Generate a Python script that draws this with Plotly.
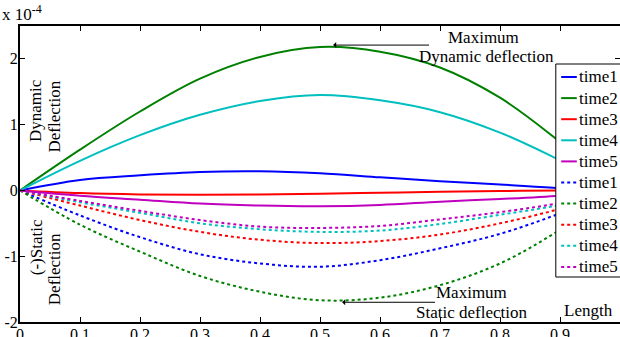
import plotly.graph_objects as go

# ---- data (deflection in units of 1e-4) ----
length = [0.0, 0.1, 0.2, 0.3, 0.4, 0.5, 0.6, 0.7, 0.8, 0.9, 1.0]
series_names = ["time1", "time2", "time3", "time4", "time5"]

dyn_time1 = [0, 0.16, 0.23, 0.28, 0.29, 0.26, 0.20, 0.14, 0.09, 0.035, 0.0]
dyn_time2 = [0, 0.62, 1.20, 1.70, 2.03, 2.18, 2.11, 1.87, 1.41, 0.74, 0.0]
dyn_time3 = [0, -0.04, -0.06, -0.065, -0.06, -0.05, -0.035, -0.02, -0.01, 0.0, 0.0]
dyn_time4 = [0, 0.45, 0.84, 1.15, 1.36, 1.45, 1.37, 1.19, 0.88, 0.46, 0.0]
dyn_time5 = [0, -0.08, -0.14, -0.20, -0.23, -0.24, -0.22, -0.17, -0.13, -0.08, 0.0]

sta_time1 = [0, -0.38, -0.71, -0.97, -1.11, -1.16, -1.06, -0.88, -0.66, -0.35, 0.0]
sta_time2 = [0, -0.52, -0.93, -1.30, -1.54, -1.67, -1.63, -1.44, -1.11, -0.60, 0.0]
sta_time3 = [0, -0.23, -0.45, -0.63, -0.75, -0.80, -0.77, -0.67, -0.50, -0.28, 0.0]
sta_time4 = [0, -0.18, -0.34, -0.50, -0.59, -0.63, -0.61, -0.51, -0.37, -0.22, 0.0]
sta_time5 = [0, -0.16, -0.31, -0.45, -0.55, -0.57, -0.54, -0.44, -0.33, -0.19, 0.0]

x_ticks = [0, 0.1, 0.2, 0.3, 0.4, 0.5, 0.6, 0.7, 0.8, 0.9, 1.0]
x_ticklabels = ["0", "0.1", "0.2", "0.3", "0.4", "0.5", "0.6", "0.7", "0.8", "0.9", "1"]
y_ticks = [-2, -1, 0, 1, 2]
y_ticklabels = ["-2", "-1", "0", "1", "2"]

colors = ["#0000ff", "#008000", "#ff0000", "#00bfbf", "#bf00bf"]
dynamic = [dyn_time1, dyn_time2, dyn_time3, dyn_time4, dyn_time5]
static = [sta_time1, sta_time2, sta_time3, sta_time4, sta_time5]

FONT = "Times New Roman, Liberation Serif, Times, serif"

fig = go.Figure()
for name, vals, c in zip(series_names, dynamic, colors):
    fig.add_trace(go.Scatter(x=length, y=vals, mode="lines", name=name,
                             line=dict(color=c, width=2, shape="spline"),
                             showlegend=False, hoverinfo="skip"))
for name, vals, c in zip(series_names, static, colors):
    fig.add_trace(go.Scatter(x=length, y=vals, mode="lines", name=name,
                             line=dict(color=c, width=2, dash="dot", shape="spline"),
                             showlegend=False, hoverinfo="skip"))

# ---- custom legend (MATLAB style) ----
shapes = []
annotations = []
plot_top, plot_bot = 26, 322
ph = plot_bot - plot_top
def py(px):
    return (plot_bot - px) / ph

shapes.append(dict(type="rect", xref="paper", yref="paper",
                   x0=0.893, x1=1.2, y0=py(277), y1=py(64),
                   line=dict(color="black", width=1), fillcolor="white", layer="above"))
entries = [(n, c, "solid") for n, c in zip(series_names, colors)] + \
          [(n, c, "dot") for n, c in zip(series_names, colors)]
for i, (n, c, d) in enumerate(entries):
    yc = 77 + 21.1 * i
    shapes.append(dict(type="line", xref="paper", yref="paper",
                       x0=0.902, x1=0.928, y0=py(yc), y1=py(yc),
                       line=dict(color=c, width=2, dash=d), layer="above"))
    annotations.append(dict(text=n, xref="paper", yref="paper", x=0.928, y=py(yc),
                            xanchor="left", yanchor="middle", showarrow=False,
                            font=dict(family=FONT, size=17, color="black")))

tf = dict(family=FONT, size=17, color="black")
annotations += [
    dict(text="Maximum", x=0.773, y=2.32, xref="x", yref="y", showarrow=False, font=tf),
    dict(text="Dynamic deflection", x=0.777, y=2.03, xref="x", yref="y", showarrow=False, font=tf),
    dict(text="Maximum", x=0.752, y=-1.545, xref="x", yref="y", showarrow=False, font=tf),
    dict(text="Static deflection", x=0.753, y=-1.86, xref="x", yref="y", showarrow=False, font=tf),
    dict(text="Length", x=0.947, y=-1.83, xref="x", yref="y", showarrow=False, font=tf),
    dict(text="Dynamic", x=0.027, y=1.21, xref="x", yref="y", showarrow=False, font=tf, textangle=-90),
    dict(text="Deflection", x=0.058, y=1.12, xref="x", yref="y", showarrow=False, font=tf, textangle=-90),
    dict(text="(-)Static", x=0.027, y=-0.86, xref="x", yref="y", showarrow=False, font=tf, textangle=-90),
    dict(text="Deflection", x=0.058, y=-1.20, xref="x", yref="y", showarrow=False, font=tf, textangle=-90),
    dict(text="x 10<sup>-4</sup>", xref="paper", yref="paper", x=-0.033, y=py(13),
         xanchor="left", yanchor="middle", showarrow=False, font=tf),
    dict(text=" ", x=0.522, y=2.21, ax=0.685, ay=2.21, xref="x", yref="y", axref="x", ayref="y",
         showarrow=True, arrowhead=1, arrowsize=1, arrowwidth=1, arrowcolor="black",
         font=dict(size=2)),
    dict(text=" ", x=0.537, y=-1.70, ax=0.695, ay=-1.70, xref="x", yref="y", axref="x", ayref="y",
         showarrow=True, arrowhead=1, arrowsize=1, arrowwidth=1, arrowcolor="black",
         font=dict(size=2)),
]

axis_common = dict(showgrid=False, zeroline=False, showline=True, linecolor="black",
                   linewidth=2, ticks="inside", ticklen=5, tickcolor="black", tickwidth=1,
                   mirror="ticks", automargin=False,
                   tickfont=dict(family=FONT, size=16, color="black"))

fig.update_layout(
    width=620, height=337,
    margin=dict(l=20, r=0, t=26, b=15, autoexpand=False),
    plot_bgcolor="white", paper_bgcolor="white",
    font=dict(family=FONT, color="black"),
    showlegend=False, hovermode=False,
    shapes=shapes, annotations=annotations,
    xaxis=dict(range=[0, 1], tickvals=x_ticks, ticktext=x_ticklabels,
               ticklabelstandoff=-3, **axis_common),
    yaxis=dict(range=[-2, 2.5], tickvals=y_ticks, ticktext=y_ticklabels,
               ticklabelstandoff=-3, **axis_common),
)

fig.write_html("out.html", config={"displayModeBar": False},
               post_script="document.body.style.margin='0';document.body.style.padding='0';")
